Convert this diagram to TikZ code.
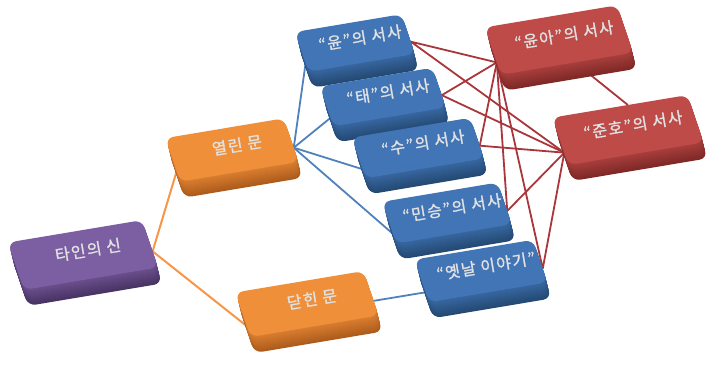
\documentclass[tikz,border=0pt]{standalone}
\usepackage{fontspec}
\usepackage{tikz}
\usetikzlibrary{backgrounds}
\newfontfamily\krfont[LetterSpace=8,FakeBold=1.2]{Noto Sans CJK KR}

\definecolor{bluetop}{HTML}{4275B6}
\definecolor{blueside}{HTML}{22476F}
\definecolor{redtop}{HTML}{BE4B48}
\definecolor{redside}{HTML}{7A2624}
\definecolor{purpletop}{HTML}{7C5EA2}
\definecolor{purpleside}{HTML}{45305F}
\definecolor{orangetop}{HTML}{EF8F3A}
\definecolor{orangeside}{HTML}{A9581A}
\definecolor{linkblue}{HTML}{4F81BD}
\definecolor{linkred}{HTML}{A8363A}
\definecolor{linkorange}{HTML}{F79646}
\definecolor{silver}{HTML}{E2E2E2}

% #1 name, #2 x, #3 y, #4 width, #5 depth, #6 colour, #7 label
\newcommand{\keycap}[7]{
	\begin{scope}[shift={(#2,#3)}]
		\foreach \k [evaluate=\k as \m using {int(30+4*\k)}] in {16,15,...,1}
			\fill[#6side!\m!#6top, xshift=0.25*\k pt, yshift=-\k pt, cm={0.986,0.165,-0.32,0.947,(0,0)}, rounded corners=8pt] (-#4/2,-#5/2) rectangle (#4/2,#5/2);
		\begin{scope}[cm={0.986,0.165,-0.32,0.947,(0,0)}]
			\fill[#6top, rounded corners=8pt] (-#4/2,-#5/2) rectangle (#4/2,#5/2);
			\coordinate (#1-l) at (-#4/2,12);
			\coordinate (#1-r) at (#4/2,8);
			\coordinate (#1-t) at (8,-#5/2);
			\coordinate (#1-b) at (8,#5/2);
		\end{scope}
		\node[keytext] (#1) at (5,-5) {#7};
	\end{scope}
}

\begin{document}
\begin{tikzpicture}[x=1pt, y=-1pt,
		keytext/.style={font=\krfont\fontsize{16}{16}\selectfont, text=silver, rotate=9.5, inner sep=1pt},
		orangelink/.style={color=linkorange, line width=2pt},
		bluelink/.style={color=linkblue, line width=1.8pt},
		redlink/.style={color=linkred, line width=1.8pt}]
	\useasboundingbox (0,0) rectangle (708,368);
	\keycap{tain}{83}{255}{136}{50}{purple}{타인의 신}
	\keycap{yeollin}{232}{150}{120}{46}{orange}{열린 문}
	\keycap{datin}{307}{304}{130}{47}{orange}{닫힌 문}
	\keycap{yun}{355}{43}{108}{42}{blue}{“윤”의 서사}
	\keycap{tae}{383}{97}{114}{42}{blue}{“태”의 서사}
	\keycap{su}{418}{148}{120}{43}{blue}{“수”의 서사}
	\keycap{minseung}{447}{213}{117}{44}{blue}{“민승”의 서사}
	\keycap{yetnal}{481}{271}{120}{45}{blue}{“옛날 이야기”}
	\keycap{yuna}{559}{40}{134}{50}{red}{“윤아”의 서사}
	\keycap{junho}{628}{130}{137}{50}{red}{“준호”의 서사}
	\begin{pgfonlayer}{background}
		\draw[orangelink] (tain-r) -- (yeollin-l);
		\draw[orangelink] (tain-r) -- (datin-l);
		\foreach \b in {yun,tae,su,minseung}
			\draw[bluelink] (yeollin-r) -- (\b-l);
		\draw[bluelink] (datin-r) -- (yetnal-l);
		\foreach \b in {yun,tae,su,minseung,yetnal}
			\draw[redlink] (\b-r) -- (yuna-l) (\b-r) -- (junho-l);
		\draw[redlink] (yuna-b) -- (junho-t);
	\end{pgfonlayer}
\end{tikzpicture}
\end{document}
